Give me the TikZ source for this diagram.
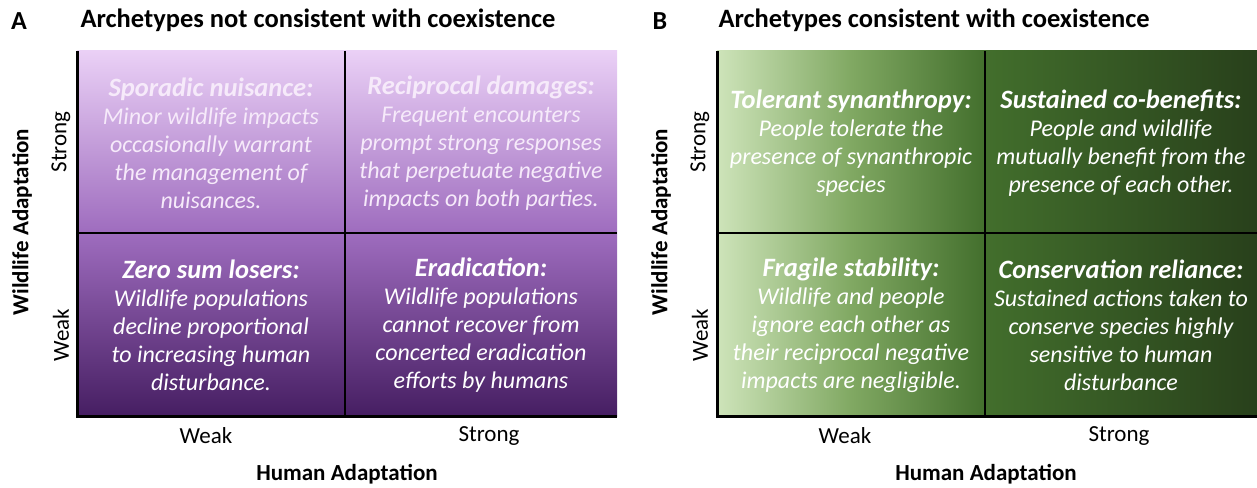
\documentclass[tikz,border=0pt]{standalone}
\usepackage{fontspec}
\setmainfont{Carlito}
\usetikzlibrary{positioning}
\definecolor{purpleTop}{RGB}{234, 208, 246}
\definecolor{purpleMid}{RGB}{158, 108, 190}
\definecolor{purpleLow}{RGB}{70, 30, 98}
\definecolor{greenPale}{RGB}{206, 228, 186}
\definecolor{greenMid}{RGB}{128, 168, 98}
\definecolor{greenDeep}{RGB}{66, 110, 44}
\definecolor{greenDark}{RGB}{40, 64, 27}
\definecolor{paleText}{RGB}{246, 234, 250}
\pgfdeclareverticalshading{purpleFade}{100bp}{color(0bp)=(purpleLow); color(25bp)=(purpleLow); color(50bp)=(purpleMid); color(75bp)=(purpleTop); color(100bp)=(purpleTop)}
\pgfdeclarehorizontalshading{greenFade}{100bp}{color(0bp)=(greenPale); color(25bp)=(greenPale); color(37.5bp)=(greenMid); color(50bp)=(greenDeep); color(75bp)=(greenDark); color(100bp)=(greenDark)}
\newcommand{\archetype}[1]{{\fontsize{26.5}{28}\selectfont\bfseries #1}}

\begin{document}
\begin{tikzpicture}[x=1pt, y=-1pt, font=\fontsize{23}{28}\selectfont,
    cell/.style={align=center, text=white, font=\fontsize{24}{28}\selectfont\itshape},
    axisline/.style={line width=3pt, black},
    gridline/.style={line width=1.6pt, black},
    tick/.style={font=\fontsize{23}{28}\selectfont},
    axistitle/.style={font=\fontsize{23}{28}\selectfont\bfseries},
    paneltitle/.style={font=\fontsize{26.5}{32}\selectfont\bfseries, anchor=west}]
    \useasboundingbox (0,0) rectangle (1257,487);

    % panel A: archetypes without coexistence
    \shade[shading=purpleFade] (77,51) rectangle (617,416);
    \draw[gridline] (345,51) -- (345,416);
    \draw[gridline] (77,233) -- (617,233);
    \draw[axisline] (77,51) -- (77,416) -- (617,416);

    \node[font=\fontsize{26}{30}\selectfont\bfseries] (letterA) at (19,21) {A};
    \node[paneltitle] (titleA) at (77,20) {Archetypes not consistent with coexistence};

    \node[cell, text=paleText] (nuisance) at (211,143) {\archetype{Sporadic nuisance:}\\Minor wildlife impacts\\occasionally warrant\\the management of\\nuisances.};
    \node[cell, text=paleText] (damages) at (481,143) {\archetype{Reciprocal damages:}\\Frequent encounters\\prompt strong responses\\that perpetuate negative\\impacts on both parties.};
    \node[cell] (losers) at (211,325) {\archetype{Zero sum losers:}\\Wildlife populations\\decline proportional\\to increasing human\\disturbance.};
    \node[cell] (eradication) at (481,325) {\archetype{Eradication:}\\Wildlife populations\\cannot recover from\\concerted eradication\\efforts by humans};

    \node[tick, rotate=90] (strongA) at (61,142) {Strong};
    \node[tick, rotate=90] (weakA) at (61,335) {Weak};
    \node[axistitle, rotate=90] (wildA) at (22,222) {Wildlife Adaptation};
    \node[tick] (weakHA) at (206,436) {Weak};
    \node[tick] (strongHA) at (489,436) {Strong};
    \node[axistitle] (humanA) at (347,474) {Human Adaptation};

    % panel B: archetypes with coexistence
    \shade[shading=greenFade] (717,51) rectangle (1257,416);
    \draw[gridline] (985,51) -- (985,416);
    \draw[gridline] (717,233) -- (1257,233);
    \draw[axisline] (717,51) -- (717,416) -- (1257,416);

    \node[font=\fontsize{26}{30}\selectfont\bfseries] (letterB) at (660,21) {B};
    \node[paneltitle] (titleB) at (715,20) {Archetypes consistent with coexistence};

    \node[cell] (synanthropy) at (851,143) {\archetype{Tolerant synanthropy:}\\People tolerate the\\presence of synanthropic\\species};
    \node[cell] (cobenefits) at (1121,143) {\archetype{Sustained co-benefits:}\\People and wildlife\\mutually benefit from the\\presence of each other.};
    \node[cell] (fragile) at (851,325) {\archetype{Fragile stability:}\\Wildlife and people\\ignore each other as\\their reciprocal negative\\impacts are negligible.};
    \node[cell] (reliance) at (1121,325) {\archetype{Conservation reliance:}\\Sustained actions taken to\\conserve species highly\\sensitive to human\\disturbance};

    \node[tick, rotate=90] (strongB) at (700,142) {Strong};
    \node[tick, rotate=90] (weakB) at (700,335) {Weak};
    \node[axistitle, rotate=90] (wildB) at (661,222) {Wildlife Adaptation};
    \node[tick] (weakHB) at (845,436) {Weak};
    \node[tick] (strongHB) at (1119,436) {Strong};
    \node[axistitle] (humanB) at (986,474) {Human Adaptation};
\end{tikzpicture}
\end{document}
